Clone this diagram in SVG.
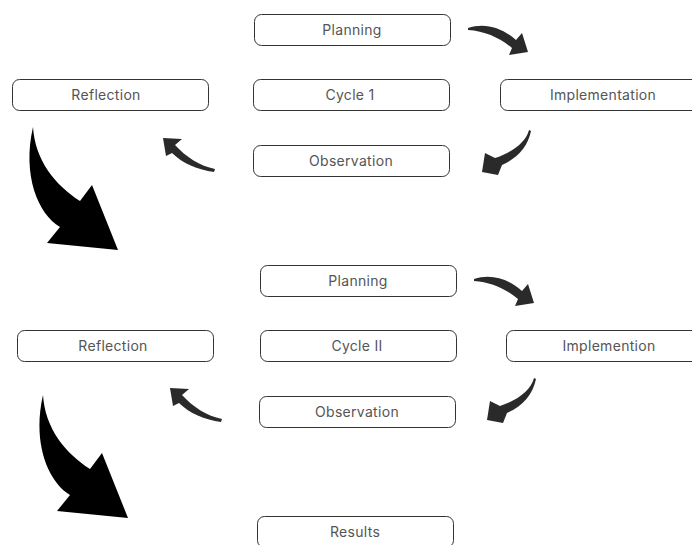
<svg xmlns="http://www.w3.org/2000/svg" width="692" height="545" viewBox="0 0 692 545">
<defs>
<style>
.box{fill:#fff;stroke:#333;stroke-width:1}
.lbl{font-family:Inter,"Open Sans","Liberation Sans",sans-serif;font-size:14px;letter-spacing:0.3px;fill:#555;text-anchor:middle}
.sa{fill:#2a2a2a}
.ba{fill:#000}
</style>
<path id="a1" d="M468,28 C485,22 503,28 516,40 L522,33 L528,52 L509,55 L512,48 C500,38 485,31 468,30 Z"/>
<path id="a2" d="M529,130 C526,142 513,152 495,158 L485,153 L482,172 L498,175 L502,165 C518,158 528,146 531,131 Z"/>
<path id="a3" d="M163,138 L182,139 L175,145 C186,157 200,166 215,169 L214,172 C198,170 182,163 172,153 L166,156 Z"/>
<path id="ab" d="M33,127 C35,160 55,185 80,201 L92,185 L118,250 L47,243 L60,227 C38,214 22,175 33,127 Z"/>
</defs>
<rect width="692" height="545" fill="#fff"/>
<g id="connectors">
<use href="#a1" class="sa"/>
<use href="#a2" class="sa"/>
<use href="#a3" class="sa"/>
<use href="#ab" class="ba"/>
<use href="#a1" class="sa" transform="translate(6,251)"/>
<use href="#a2" class="sa" transform="translate(5,248)"/>
<use href="#a3" class="sa" transform="translate(7,250)"/>
<use href="#ab" class="ba" transform="translate(10,268)"/>
</g>
<g id="planning1"><rect class="box" x="254.5" y="14.5" width="196" height="31" rx="7"/><text class="lbl" x="352" y="35">Planning</text></g>
<g id="reflection1"><rect class="box" x="12.5" y="79.5" width="196" height="31" rx="7"/><text class="lbl" x="106" y="100">Reflection</text></g>
<g id="cycle1"><rect class="box" x="253.5" y="79.5" width="196" height="31" rx="7"/><text class="lbl" x="350" y="100">Cycle 1</text></g>
<g id="implementation1"><rect class="box" x="500.5" y="79.5" width="206" height="31" rx="7"/><text class="lbl" x="603" y="100">Implementation</text></g>
<g id="observation1"><rect class="box" x="253.5" y="145.5" width="196" height="31" rx="7"/><text class="lbl" x="351" y="166">Observation</text></g>
<g id="planning2"><rect class="box" x="260.5" y="265.5" width="196" height="31" rx="7"/><text class="lbl" x="358" y="286">Planning</text></g>
<g id="reflection2"><rect class="box" x="17.5" y="330.5" width="196" height="31" rx="7"/><text class="lbl" x="113" y="351">Reflection</text></g>
<g id="cycle2"><rect class="box" x="260.5" y="330.5" width="196" height="31" rx="7"/><text class="lbl" x="357" y="351">Cycle II</text></g>
<g id="implemention2"><rect class="box" x="506.5" y="330.5" width="206" height="31" rx="7"/><text class="lbl" x="609" y="351">Implemention</text></g>
<g id="observation2"><rect class="box" x="259.5" y="396.5" width="196" height="31" rx="7"/><text class="lbl" x="357" y="417">Observation</text></g>
<g id="results"><rect class="box" x="257.5" y="516.5" width="196" height="31" rx="7"/><text class="lbl" x="355" y="537">Results</text></g>
</svg>
